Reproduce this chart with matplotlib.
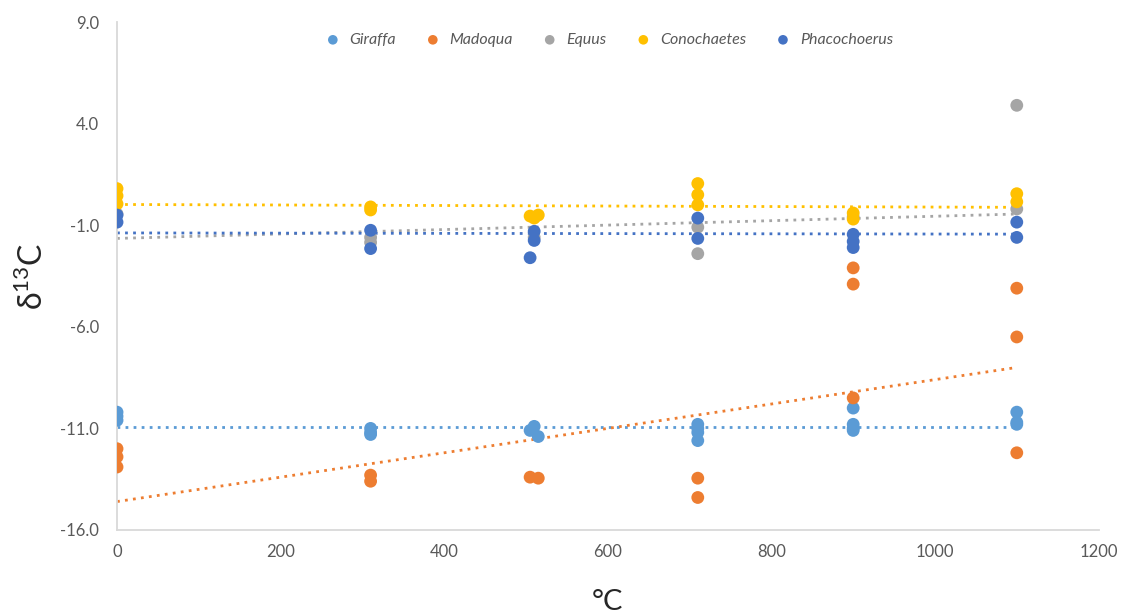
import numpy as np
import matplotlib
matplotlib.use("Agg")
import matplotlib.pyplot as plt

plt.rcParams['font.family'] = ['Lato', 'DejaVu Sans']

# temperature (°C) and d13C values per taxon
giraffa_x = [0, 0, 0, 310, 310, 310, 510, 505, 515, 710, 710, 710, 710, 900, 900, 900, 900, 1100, 1100, 1100]
giraffa_y = [-10.2, -10.4, -10.6, -11.0, -11.2, -11.3, -10.9, -11.1, -11.4,
             -10.8, -11.0, -11.2, -11.6, -10.0, -10.8, -11.0, -11.1, -10.2, -10.7, -10.8]

madoqua_x = [0, 0, 0, 310, 310, 505, 515, 710, 710, 900, 900, 900, 1100, 1100, 1100]
madoqua_y = [-12.0, -12.4, -12.9, -13.3, -13.6, -13.4, -13.45, -13.45, -14.4,
             -3.1, -3.9, -9.5, -4.1, -6.5, -12.2]

equus_x = [0, 310, 310, 510, 710, 710, 900, 1100, 1100]
equus_y = [-0.45, -1.6, -1.85, -1.6, -1.1, -2.4, -0.6, 4.9, -0.2]

conochaetes_x = [0, 0, 0, 310, 310, 505, 510, 515, 710, 710, 710, 900, 900, 1100, 1100]
conochaetes_y = [0.8, 0.45, 0.05, -0.1, -0.25, -0.55, -0.65, -0.5, 1.05, 0.5, 0.0,
                 -0.4, -0.7, 0.55, 0.15]

phaco_x = [0, 0, 310, 310, 505, 510, 510, 710, 710, 900, 900, 900, 1100, 1100]
phaco_y = [-0.5, -0.85, -1.25, -2.15, -2.6, -1.3, -1.75, -0.65, -1.65,
           -1.45, -1.8, -2.1, -0.85, -1.6]

# linear trend values at 0 and 1100 °C
trend_x = [0, 1100]
giraffa_trend = [-10.95, -10.95]
madoqua_trend = [-14.6, -8.0]
equus_trend = [-1.65, -0.45]
conochaetes_trend = [0.02, -0.12]
phaco_trend = [-1.38, -1.44]

names = ["Giraffa", "Madoqua", "Equus", "Conochaetes", "Phacochoerus"]
colors = ["#5B9BD5", "#ED7D31", "#A5A5A5", "#FFC000", "#4472C4"]
series = [(giraffa_x, giraffa_y, giraffa_trend),
          (madoqua_x, madoqua_y, madoqua_trend),
          (equus_x, equus_y, equus_trend),
          (conochaetes_x, conochaetes_y, conochaetes_trend),
          (phaco_x, phaco_y, phaco_trend)]

fig = plt.figure(figsize=(11.21, 6.13), dpi=100)
ax = fig.add_axes([0.1044, 0.1354, 0.8756, 0.8287])

for name, col, (xs, ys, tr) in zip(names, colors, series):
    ax.scatter(xs, ys, s=85, color=col, edgecolors='none', label=name, zorder=3)
    ax.plot(trend_x, tr, color=col, lw=2.0, linestyle=(0, (1, 1.9)), zorder=2)

ax.set_xlim(0, 1200)
ax.set_ylim(-16, 9)
ax.set_xticks(np.arange(0, 1201, 200))
yt = [9, 4, -1, -6, -11, -16]
ax.set_yticks(yt)
ax.set_yticklabels([f"{v:.1f}" for v in yt])

for side in ['top', 'right']:
    ax.spines[side].set_visible(False)
for side in ['left', 'bottom']:
    ax.spines[side].set_color('#D9D9D9')
    ax.spines[side].set_linewidth(1.3)
ax.tick_params(length=0, labelsize=12, labelcolor='#595959')
ax.tick_params(axis='y', pad=13)
ax.tick_params(axis='x', pad=10)

ax.set_xlabel("°C", fontsize=21, color='#262626', labelpad=21)
ax.set_ylabel(r"δ$^{\mathregular{13}}$C", fontsize=23, color='#262626', labelpad=8)

leg = ax.legend(loc='upper center', bbox_to_anchor=(0.497, 1.007), ncol=5, frameon=False,
                handletextpad=0.05, columnspacing=1.3, markerscale=0.75,
                prop={'style': 'italic', 'size': 11.5})
for t in leg.get_texts():
    t.set_color('#595959')

fig.savefig("out.png", dpi=100)
